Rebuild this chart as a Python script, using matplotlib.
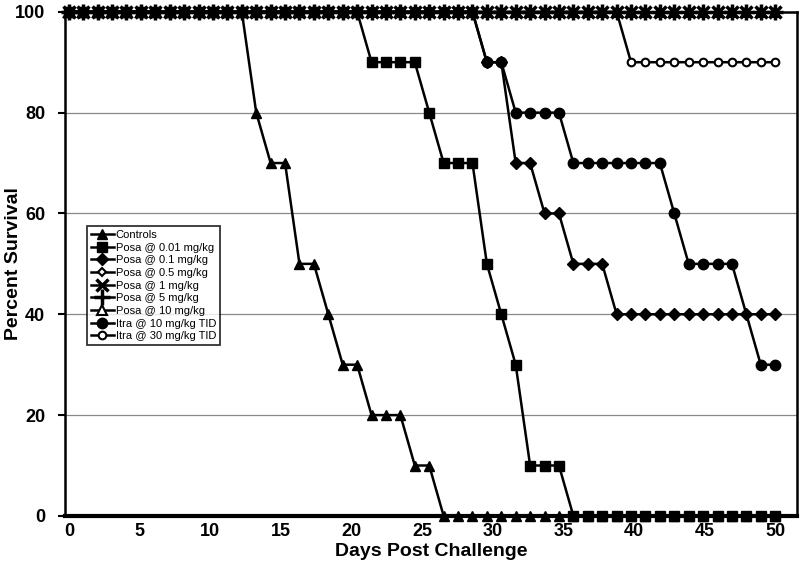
import numpy as np
import matplotlib
matplotlib.use("Agg")
import matplotlib.pyplot as plt

plt.rcParams['font.family'] = ['Liberation Sans', 'DejaVu Sans']

# survival (%) per study day
days = list(range(50))
tick_labels = [0, 5, 10, 15, 20, 25, 30, 35, 40, 45, 50]

controls = [100] * 13 + [80, 70, 70, 50, 50, 40, 30, 30, 20, 20, 20, 10, 10] + [0] * 24
posa_001 = [100] * 21 + [90] * 4 + [80] + [70] * 3 + [50, 40, 30] + [10] * 3 + [0] * 15
posa_01 = [100] * 29 + [90] * 2 + [70] * 2 + [60] * 2 + [50] * 3 + [40] * 12
posa_05 = [100] * 50
posa_1 = [100] * 50
posa_5 = [100] * 50
posa_10 = [100] * 50
itra10_days = [d for d in days if d != 47]
itra_10 = [100] * 29 + [90] * 2 + [80] * 4 + [70] * 7 + [60] + [50] * 4 + [30] * 2
itra_30 = [100] * 39 + [90] * 11

# open markers go underneath so the top row reads as a dark star, like the scan
series = [
    ("Controls", days, controls, dict(marker='^', ms=7.5, zorder=3)),
    ("Posa @ 0.01 mg/kg", days, posa_001, dict(marker='s', ms=6.5, zorder=3)),
    ("Posa @ 0.1 mg/kg", days, posa_01, dict(marker='D', ms=6, zorder=3)),
    ("Posa @ 0.5 mg/kg", days, posa_05, dict(marker='D', ms=4.5, mfc='white', mew=1.5, zorder=2.4)),
    ("Posa @ 1 mg/kg", days, posa_1, dict(marker='x', ms=9, mew=2.5, zorder=3)),
    ("Posa @ 5 mg/kg", days, posa_5, dict(marker='+', ms=11, mew=2.5, zorder=3)),
    ("Posa @ 10 mg/kg", days, posa_10, dict(marker='^', ms=6.5, mfc='white', mew=1.5, zorder=2.2)),
    ("Itra @ 10 mg/kg TID", itra10_days, itra_10, dict(marker='o', ms=7.5, zorder=3)),
    ("Itra @ 30 mg/kg TID", days, itra_30, dict(marker='o', ms=5.5, mfc='white', mew=1.5, zorder=2.3)),
]

fig = plt.figure(figsize=(8, 5.62), dpi=100)
ax = fig.add_axes([0.081, 0.082, 0.915, 0.897])

for label, x, y, style in series:
    style.setdefault('mfc', 'black')
    ax.plot(x, y, color='black', lw=1.8, mec='black', label=label, clip_on=False, **style)

ax.set_ylim(0, 100)
ax.set_xlim(-0.28, 50.5)
ax.set_yticks([0, 20, 40, 60, 80, 100])
ax.set_xticks([t * (len(days) - 1) / 50 for t in tick_labels], [str(t) for t in tick_labels])
ax.yaxis.grid(True, color='#888888', lw=0.9)
ax.set_axisbelow(True)

for side in ['left', 'right', 'top']:
    ax.spines[side].set_linewidth(1.8)
ax.spines['bottom'].set_linewidth(3)

ax.tick_params(axis='x', length=0, pad=5, labelsize=13)
ax.tick_params(axis='y', length=5, width=1.5, pad=9, labelsize=13)
for lab in ax.get_xticklabels() + ax.get_yticklabels():
    lab.set_fontweight('bold')

ax.set_xlabel("Days Post Challenge", fontsize=14, fontweight='bold', labelpad=2)
ax.set_ylabel("Percent Survival", fontsize=14, fontweight='bold')
ax.yaxis.set_label_coords(-0.058, 0.5)

leg = ax.legend(loc='upper left', bbox_to_anchor=(0.031, 0.575), frameon=True, fancybox=False,
                edgecolor='black', borderpad=0.35, labelspacing=0.24, handlelength=2.0,
                handletextpad=0.2, borderaxespad=0, prop={'size': 8})
leg.get_frame().set_linewidth(1.3)

fig.savefig("out.png", dpi=100)
